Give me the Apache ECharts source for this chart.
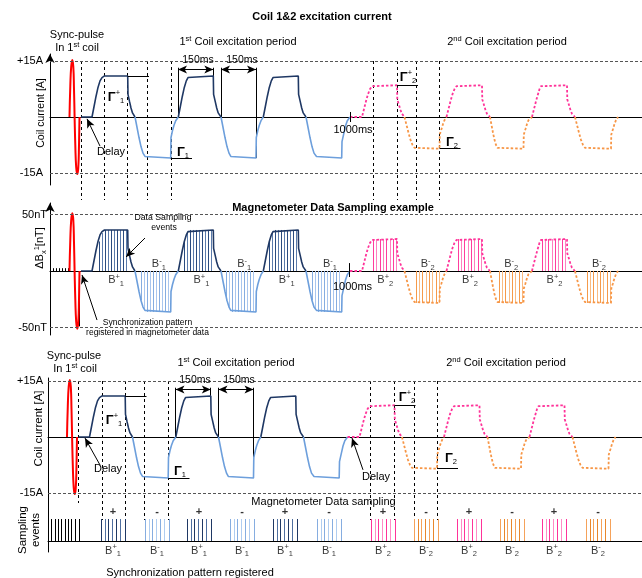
<!DOCTYPE html>
<html><head><meta charset="utf-8">
<script src="https://cdn.jsdelivr.net/npm/echarts@6/dist/echarts.min.js"></script>
<style>html,body{margin:0;padding:0;background:#fff}#c{width:642px;height:578px}</style>
</head><body><div id="c"></div>
<script>
// ---------- DATA (time axis in schematic units; values normalised to plateau = 1) ----------
const syncPulse = [[69.5,0],[70.3,0.55],[71.2,0.9],[72.3,1.02],[73.3,0.9],[74,0.5],[74.6,0],[75.3,-0.5],[76.2,-0.9],[77.3,-1.02],[78.3,-0.9],[79,-0.5],[79.5,0]];
const coil1PosSegs = [
 [[81,0],[92,0],[94,0.25],[96,0.5],[98,0.72],[100,0.88],[102,0.96],[104.5,1],[127.7,1],[128,0.55],[129.5,0.38],[131,0.22],[132.5,0.1],[135,0]],
 [[178.3,0],[180.3,0.25],[182.3,0.5],[184.3,0.72],[186.3,0.88],[188,0.96],[189.5,1],[213.3,1],[213.6,0.55],[215.2,0.38],[216.7,0.22],[218.2,0.1],[221,0]],
 [[263.3,0],[265.3,0.25],[267.3,0.5],[269.3,0.72],[271.3,0.88],[273,0.96],[275,1],[298.3,1],[298.6,0.55],[300.2,0.38],[301.7,0.22],[303.2,0.1],[306,0]]
];
const coil1NegSegs = [
 [[135,0],[137,-0.25],[139,-0.5],[141,-0.72],[143,-0.88],[145,-0.96],[147,-1],[170.7,-1],[171,-0.5],[172.5,-0.33],[174,-0.2],[175.7,-0.09],[178.3,0]],
 [[221,0],[223,-0.25],[225,-0.5],[227,-0.72],[229,-0.88],[230.8,-0.96],[232.3,-1],[256,-1],[256.3,-0.5],[257.8,-0.33],[259.3,-0.2],[261,-0.09],[263.3,0]],
 [[306,0],[308,-0.25],[310,-0.5],[312,-0.72],[314,-0.88],[316.5,-0.96],[318.3,-1],[341.7,-1],[342,-0.6],[344,-0.38],[345.5,-0.22],[347.3,-0.09],[350,0]]
];
const coil2PosSegs = [
 [[350,0],[362,0],[364,0.25],[366,0.5],[368,0.72],[370,0.88],[372,0.97],[373.5,1],[397,1],[397.3,0.55],[399,0.38],[400.5,0.22],[402,0.1],[404.5,0]],
 [[446.5,0],[448.5,0.25],[450.5,0.5],[452.5,0.72],[454.5,0.88],[456.5,0.97],[458,1],[482,1],[482.3,0.55],[484,0.38],[485.5,0.22],[487,0.1],[490,0]],
 [[532,0],[534,0.25],[536,0.5],[538,0.72],[539.5,0.88],[541,0.97],[542,1],[567,1],[567.3,0.55],[569,0.38],[570.5,0.22],[572,0.1],[575,0]]
];
const coil2NegSegs = [
 [[404.5,0],[406.5,-0.25],[408.5,-0.5],[410.5,-0.72],[412.5,-0.88],[414.5,-0.97],[416,-1],[439.5,-1],[439.8,-0.55],[441.5,-0.38],[443,-0.22],[444.5,-0.1],[446.5,0]],
 [[490,0],[491.5,-0.25],[493,-0.5],[494.5,-0.72],[496,-0.88],[497.5,-0.97],[499,-1],[523.5,-1],[523.8,-0.55],[525.5,-0.38],[527,-0.22],[528.5,-0.1],[532,0]],
 [[575,0],[577,-0.25],[579,-0.5],[581,-0.72],[583,-0.88],[585,-0.97],[587,-1],[611,-1],[611.3,-0.55],[613,-0.38],[614.5,-0.22],[616,-0.1],[618,0]]
];
const coil1PosPlateaus = [[104.5,127.7],[189.5,213.3],[275,298.3]];
const coil1NegPlateaus = [[147,170.7],[232.3,256],[318.3,341.7]];
const coil2PosPlateaus = [[373.5,397],[458,482],[542,567]];
const coil2NegPlateaus = [[416,439.5],[499,523.5],[587,611]];
// amplitudes
const syncAmp = {A: 15, nT: 50};
const coil1Amp = {A: 11, nT: 36.3};
const coil2Amp = {A: 8.5, nT: 28.3};
// magnetometer samples in panel 2 (offsets from plateau start, and level as fraction of plateau)
const p2Offsets1 = [-5.5,-2.5,0.5,3.5,6.5,9.5,12.5,15.5,18.5,21.5];
const p2Levels1  = [0.72,0.93,1,1,1,1,1,1,1,1];
const p2Offsets2 = [0,3.3,6.6,10,13.3,16.6,20,23.3];
const p2SyncTicks = [53,56,59,62,65,68];
// sampling-event row (panel 3)
const rowSyncTimes = [54.2,57.5,60.8,64.2,67.5,70.8,74.2,77.5,81.8];
const rowOffsets = [0,4,7.5,11.5,15,19,24];
const rowGroups = [
 {t:103.5,coil:1,sign:'+'},{t:147.5,coil:1,sign:'-'},{t:189.5,coil:1,sign:'+'},{t:232.5,coil:1,sign:'-'},
 {t:275.5,coil:1,sign:'+'},{t:319.5,coil:1,sign:'-'},{t:373.5,coil:2,sign:'+'},{t:416.5,coil:2,sign:'-'},
 {t:459.5,coil:2,sign:'+'},{t:502.5,coil:2,sign:'-'},{t:544.5,coil:2,sign:'+'},{t:588.5,coil:2,sign:'-'}
];
// period markers
const dashedTimes = [81,104.5,127.7,147,171,373,397,416.5,439.5];
const bracketPairs = [[178,213.3],[221,256]];
const bracketLabel = '150ms';
const marker1000 = 350;
// axis tick labels
const p1Ticks = [15,-15], p1TickLabels = ['+15A','-15A'];
const p2Ticks = [50,-50], p2TickLabels = ['50nT','-50nT'];

// ---------- STYLE ----------
const F = '"Liberation Sans", Arial, Helvetica, sans-serif';
const NAVY='#1f3864', LIGHT='#6d9fdc', PINK='#ff3399', ORANGE='#f79646', RED='#ff0000';
const RICH = {
  b:{fontSize:11,fontFamily:F,color:'#000',lineHeight:15},
  bb:{fontSize:11,fontFamily:F,color:'#000',lineHeight:15,fontWeight:'bold'},
  g:{fontSize:13,fontFamily:F,color:'#000',fontWeight:'bold',lineHeight:16},
  sup:{fontSize:7.5,fontFamily:F,color:'#000',verticalAlign:'top'},
  sub:{fontSize:7.5,fontFamily:F,color:'#000',verticalAlign:'bottom'}
};
const chart = echarts.init(document.getElementById('c'), null, {renderer:'canvas'});

function wave(segs, amp, idx, color, dotted, smooth) {
  const data = [];
  segs.forEach((s,i)=>{ if(i) data.push(null); s.forEach(p=>data.push([p[0], p[1]*amp])); });
  return {type:'line', xAxisIndex:idx, yAxisIndex:idx, data, symbol:'none', showSymbol:false, smooth: smooth||false,
    silent:true, animation:false, z:4, connectNulls:false,
    lineStyle:{color, width: dotted?1.8:1.6, type: dotted?[2.5,2]:'solid'}};
}
function vlines(idx, items, opt) {
  return {type:'custom', xAxisIndex:idx, yAxisIndex:idx, silent:true, animation:false, clip:false, z: opt.z||3,
    encode:{x:0, y:[1,2]},
    data: items.map(it=>({value:[it[0],it[1],it[2]], itemStyle:{color: it[3]||opt.color}})),
    renderItem:(params, api)=>{
      const p1 = api.coord([api.value(0), api.value(1)]);
      const p2 = api.coord([api.value(0), api.value(2)]);
      const x = Math.round(p1[0]-0.5)+0.5;
      return {type:'line', shape:{x1:x,y1:p1[1],x2:x,y2:p2[1]},
        style:{stroke: api.visual('color'), lineWidth: opt.width||1, lineDash: opt.dash||null}};
    }};
}
const ARROW = {symbol:'arrow', symbolSize:[6,9]};
function seg(a, b, arrowStart, arrowEnd) {
  return [Object.assign({coord:a}, arrowStart?ARROW:{symbol:'none'}), Object.assign({coord:b}, arrowEnd?ARROW:{symbol:'none'})];
}
function blackMarks(list) {
  return {symbol:['none','none'], silent:true, animation:false, label:{show:false}, emphasis:{disabled:true},
    lineStyle:{color:'#000', width:1, type:'solid'}, data:list};
}
function dashedH(vals) {
  return {symbol:['none','none'], silent:true, animation:false, label:{show:false}, emphasis:{disabled:true},
    lineStyle:{color:'#555', width:1, type:[3,2]}, data: vals.map(v=>({yAxis:v}))};
}
function labelSeries(idx, items) {
  return {type:'scatter', xAxisIndex:idx, yAxisIndex:idx, symbolSize:0, silent:true, animation:false, z:6,
    data: items.map(it=>({value:[it[0],it[1]], t:it[2]})),
    label:{show:true, position:'inside', formatter:p=>p.data.t, rich:RICH, color:'#000'}};
}
function bLabel(coil, sign){ return '{b|B}{sup|'+sign+'}{sub|'+coil+'}'; }

// ---------- axes ----------
const xBase = {type:'value', axisTick:{show:false}, axisLabel:{show:false}, splitLine:{show:false},
  axisLine:{onZero:true, lineStyle:{color:'#000', width:1}}};
function yAx(idx, min, max, arrow, ticks, labels, margin) {
  return {type:'value', gridIndex:idx, min, max, splitLine:{show:false}, axisTick:{show:false},
    axisLine:{show:true, onZero:false, symbol: arrow?['none','arrow']:['none','none'], symbolSize:[7,9], lineStyle:{color:'#000', width:1}},
    axisLabel:{show: !!ticks, customValues: ticks||[], formatter: v=>{const i=(ticks||[]).indexOf(v); return i>=0?labels[i]:'';},
      fontFamily:F, fontSize:11, color:'#000', margin: margin||5}};
}

// ---------- series ----------
const series = [];
const A = coil1Amp.A;
// Panel 1 & Panel 3 (coil current)
[0,2].forEach(idx=>{
  const s1 = wave(coil1PosSegs, coil1Amp.A, idx, NAVY);
  const annot = [
    seg([coil1PosPlateaus[0][1], coil1Amp.A],[149, coil1Amp.A]),
    seg([coil1NegPlateaus[0][1], -coil1Amp.A],[192, -coil1Amp.A]),
    seg([coil2PosPlateaus[0][1], coil2Amp.A],[418, coil2Amp.A]),
    seg([coil2NegPlateaus[0][1], -coil2Amp.A],[460.5, -coil2Amp.A]),
    ...bracketPairs.map(b=>seg([b[0],12.7],[b[1],12.7],true,true))
  ];
  if (idx===0) {
    annot.push(seg([100,-7.8],[87,-0.5],false,true));
    annot.push(seg([marker1000,1.34],[marker1000,-1.34]));
  } else {
    annot.push(seg([102.5,-7.5],[87.5,-0.3],false,true));
    annot.push(seg([365.5,-8.8],[354.5,-0.3],false,true));
  }
  s1.markLine = blackMarks(annot);
  series.push(s1);
  series.push(wave(coil1NegSegs, coil1Amp.A, idx, LIGHT));
  series.push(wave(coil2PosSegs, coil2Amp.A, idx, PINK, true));
  series.push(wave(coil2NegSegs, coil2Amp.A, idx, ORANGE, true));
  const red = wave([syncPulse], syncAmp.A, idx, RED, false, 0.5);
  red.lineStyle.width = 2;
  red.markLine = dashedH([15,-15]);
  series.push(red);
  series.push(vlines(idx, dashedTimes.map((t,i)=>[t,15,(idx===2&&i===0)?-17.7:-22.2]), {color:'#000', dash:[3,3], z:2}));
  series.push(vlines(idx, [[bracketPairs[0][0],13.2,0],[bracketPairs[0][1],13.2,coil1Amp.A],[bracketPairs[1][0],13.2,0],[bracketPairs[1][1],13.2,-coil1Amp.A]], {color:'#000'}));
});

// Panel 2 (magnetometer)
{
  const idx = 1;
  const s1 = wave(coil1PosSegs, coil1Amp.nT, idx, NAVY);
  s1.markLine = blackMarks([
    seg([145,29.2],[126,12.4],false,true),
    seg([97,-43.4],[82,-3.5],false,true),
    seg([marker1000-1,7],[marker1000-1,-5.3])
  ]);
  series.push(s1);
  series.push(wave(coil1NegSegs, coil1Amp.nT, idx, LIGHT));
  series.push(wave(coil2PosSegs, coil2Amp.nT, idx, PINK, true));
  series.push(wave(coil2NegSegs, coil2Amp.nT, idx, ORANGE, true));
  const red = wave([syncPulse], syncAmp.nT, idx, RED, false, 0.5);
  red.lineStyle.width = 2;
  red.markLine = dashedH([50,-50]);
  series.push(red);
  const samp = [];
  coil1PosPlateaus.forEach(p=>p2Offsets1.forEach((o,i)=>samp.push([p[0]+o,0,coil1Amp.nT*p2Levels1[i], i%2?'#5b7bab':'#2b4c80'])));
  coil1NegPlateaus.forEach(p=>p2Offsets1.forEach((o,i)=>samp.push([p[0]+o,0,-coil1Amp.nT*p2Levels1[i], i%2?'#a9c6ee':'#86ade0'])));
  coil2PosPlateaus.forEach(p=>p2Offsets2.forEach((o,i)=>samp.push([p[0]+o,0,coil2Amp.nT, i%2?'#ff80c0':'#ff3d9e'])));
  coil2NegPlateaus.forEach(p=>p2Offsets2.forEach((o,i)=>samp.push([p[0]+o,0,-coil2Amp.nT, i%2?'#f9bb82':'#f59a4a'])));
  series.push(vlines(idx, samp, {color:'#000', z:3}));
  series.push(vlines(idx, p2SyncTicks.map(t=>[t,0,2.5]).concat([[79,0,-49]]), {color:'#000', z:3}));
  const labs = [];
  coil1PosPlateaus.forEach(p=>labs.push([(p[0]+p[1])/2,-8,bLabel(1,'+')]));
  coil1NegPlateaus.forEach(p=>labs.push([(p[0]+p[1])/2,6.2,bLabel(1,'-')]));
  coil2PosPlateaus.forEach(p=>labs.push([(p[0]+p[1])/2,-8,bLabel(2,'+')]));
  coil2NegPlateaus.forEach(p=>labs.push([(p[0]+p[1])/2,6.2,bLabel(2,'-')]));
  series.push(labelSeries(idx, labs));
}

// Sampling-event row
{
  const idx = 3;
  const cols = {'1+':['#1f3864','#4f6fa0'], '1-':['#86ade0','#b0cdf0'], '2+':['#ff3399','#ff8cc6'], '2-':['#f5a25a','#e8872c']};
  const items = rowSyncTimes.map(t=>[t,0,1,'#000']);
  rowGroups.forEach(g=>rowOffsets.forEach((o,i)=>items.push([g.t+o,0,1,cols[g.coil+g.sign][i%2]])));
  const s = vlines(idx, items, {color:'#000'});
  series.push(s);
  const labs = [];
  rowGroups.forEach(g=>{
    const cx = g.t + rowOffsets[rowOffsets.length-1]/2;
    labs.push([cx, 1.32, '{bb|'+g.sign+'}']);
    labs.push([cx, -0.45, bLabel(g.coil, g.sign)]);
  });
  const ls = labelSeries(idx, labs);
  ls.markLine = blackMarks([seg([110.5,-1.23],[82.5,1.73],false,true)]);
  series.push(ls);
}

// ---------- texts ----------
function T(x,y,text,o){
  o = o||{};
  return {type:'text', x, y, rotation:o.rot||0, silent:true, z:10,
    style:Object.assign({text, fontFamily:F, fontSize:11, fill:'#000', align:'center', verticalAlign:'middle',
      textAlign:'center', textVerticalAlign:'middle', rich:RICH}, o.style||{})};
}
const R90 = Math.PI/2;
const first = '{b|1}{sup|st}{b| Coil excitation period}';
const second = '{b|2}{sup|nd}{b| Coil excitation period}';
const inCoil = '{b|In 1}{sup|st}{b| coil}';
const texts = [
  T(322,17,'Coil 1&2 excitation current',{style:{fontWeight:'bold'}}),
  T(333,208,'Magnetometer Data Sampling example',{style:{fontWeight:'bold'}}),
  // panel 1
  T(77,35,'Sync-pulse'), T(77,48,inCoil),
  T(238,42,first), T(507,42,second),
  T(198,60,bracketLabel,{style:{fontSize:10.5}}), T(242,60,bracketLabel,{style:{fontSize:10.5}}),
  T(111,152,'Delay'),
  T(116,97,'{g|Γ}{sup|+}{sub|1}'), T(183,152,'{g|Γ}{sub|1}'), T(408,77,'{g|Γ}{sup|+}{sub|2}'), T(452,142,'{g|Γ}{sub|2}'),
  T(353,130,'1000ms'),
  T(41,113,'Coil current [A]',{rot:R90, style:{fontSize:10.5}}),
  // panel 2
  T(40,248,'{b|ΔB}{sub|x}{sup|1}{b|[nT]}',{rot:R90}),
  T(163,218,'Data Sampling',{style:{fontSize:8.7}}), T(164,228,'events',{style:{fontSize:8.7}}),
  T(147.5,323,'Synchronization pattern',{style:{fontSize:8.5}}), T(147.5,333,'registered in magnetometer data',{style:{fontSize:8.5}}),
  T(352.5,287,'1000ms'),
  // panel 3
  T(74,356,'Sync-pulse'), T(75,369,inCoil),
  T(236,363,first), T(506,363,second),
  T(195,380,bracketLabel,{style:{fontSize:10.5}}), T(239,380,bracketLabel,{style:{fontSize:10.5}}),
  T(114,420,'{g|Γ}{sup|+}{sub|1}'), T(180,471,'{g|Γ}{sub|1}'), T(407,397,'{g|Γ}{sup|+}{sub|2}'), T(451,458,'{g|Γ}{sub|2}'),
  T(108,469,'Delay'), T(376,477,'Delay'),
  T(39,428.5,'Coil current [A]',{rot:R90, style:{fontSize:11.5}}),
  T(323.5,502,'Magnetometer Data sampling'),
  T(29,530,'Sampling\nevents',{rot:R90, style:{lineHeight:13, fontSize:11.5}}),
  T(190,573,'Synchronization pattern registered')
];

chart.setOption({
  animation:false,
  grid:[
    {left:50, top:54, width:592, height:131},
    {left:50, top:203, width:592, height:132},
    {left:48, top:378, width:594, height:122},
    {left:48, top:500, width:594, height:52}
  ],
  xAxis:[
    Object.assign({gridIndex:0, min:50, max:642}, xBase),
    Object.assign({gridIndex:1, min:50, max:642}, xBase),
    Object.assign({gridIndex:2, min:50.5, max:644.5}, xBase),
    Object.assign({gridIndex:3, min:50.5, max:644.5}, xBase)
  ],
  yAxis:[
    yAx(0, -(185-117)/3.7333, (117-54)/3.7333, true, p1Ticks, p1TickLabels, 7),
    yAx(1, -(335-271)/1.13, (271-203)/1.13, true, p2Ticks, p2TickLabels, 3),
    yAx(2, -(500-437)/3.7333, (437-378)/3.7333, false, p1Ticks, p1TickLabels, 5),
    yAx(3, -0.5, 41/22, false, null, null)
  ],
  series,
  graphic:{elements:texts}
});
</script></body></html>
